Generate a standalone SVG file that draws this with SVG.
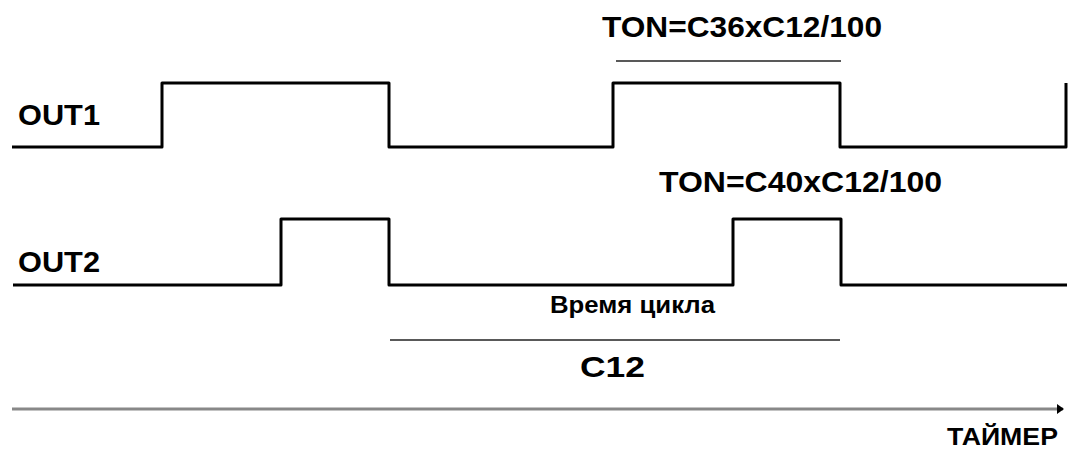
<svg xmlns="http://www.w3.org/2000/svg" width="1069" height="450" viewBox="0 0 1069 450">
<style>
.sig{fill:none;stroke:#000;stroke-width:3;stroke-linejoin:round}
.dim{stroke:#222;stroke-width:1.6}
.t{font-family:"Liberation Sans",Arial,sans-serif;font-weight:bold;fill:#000}
</style>
<defs>
<marker id="ah" markerWidth="8" markerHeight="10" refX="6" refY="5" orient="auto" markerUnits="userSpaceOnUse">
<path d="M0,0 L7,5 L0,10 Z" fill="#000"/>
</marker>
</defs>
<rect width="1069" height="450" fill="#fff"/>
<g id="out1">
<text class="t" x="18" y="125" font-size="30" textLength="82" lengthAdjust="spacingAndGlyphs">OUT1</text>
<path class="sig" d="M12,147 H162 V83 H389 V147 H613 V83 H840 V147 H1066 V83"/>
</g>
<g id="out2">
<text class="t" x="18" y="272" font-size="30" textLength="82" lengthAdjust="spacingAndGlyphs">OUT2</text>
<path class="sig" d="M13,285 H281 V219 H389 V285 H733 V219 H841 V285 H1067"/>
</g>
<g id="ton1">
<line class="dim" x1="616" y1="61" x2="841" y2="61"/>
<text class="t" x="602" y="37" font-size="30" textLength="280" lengthAdjust="spacingAndGlyphs">TON=C36xC12/100</text>
</g>
<g id="ton2">
<text class="t" x="659" y="192" font-size="30" textLength="283" lengthAdjust="spacingAndGlyphs">TON=C40xC12/100</text>
</g>
<g id="cycle">
<text class="t" x="550" y="313" font-size="24" textLength="165" lengthAdjust="spacingAndGlyphs">Время цикла</text>
<line class="dim" x1="390" y1="340" x2="840" y2="340"/>
<text class="t" x="580" y="377" font-size="30" textLength="65" lengthAdjust="spacingAndGlyphs">C12</text>
</g>
<g id="connectors">
<line x1="12" y1="409" x2="1063" y2="409" stroke="#888" stroke-width="3" marker-end="url(#ah)"/>
</g>
<g id="timer">
<text class="t" x="947" y="445" font-size="24" textLength="111" lengthAdjust="spacingAndGlyphs">ТАЙМЕР</text>
</g>
</svg>
